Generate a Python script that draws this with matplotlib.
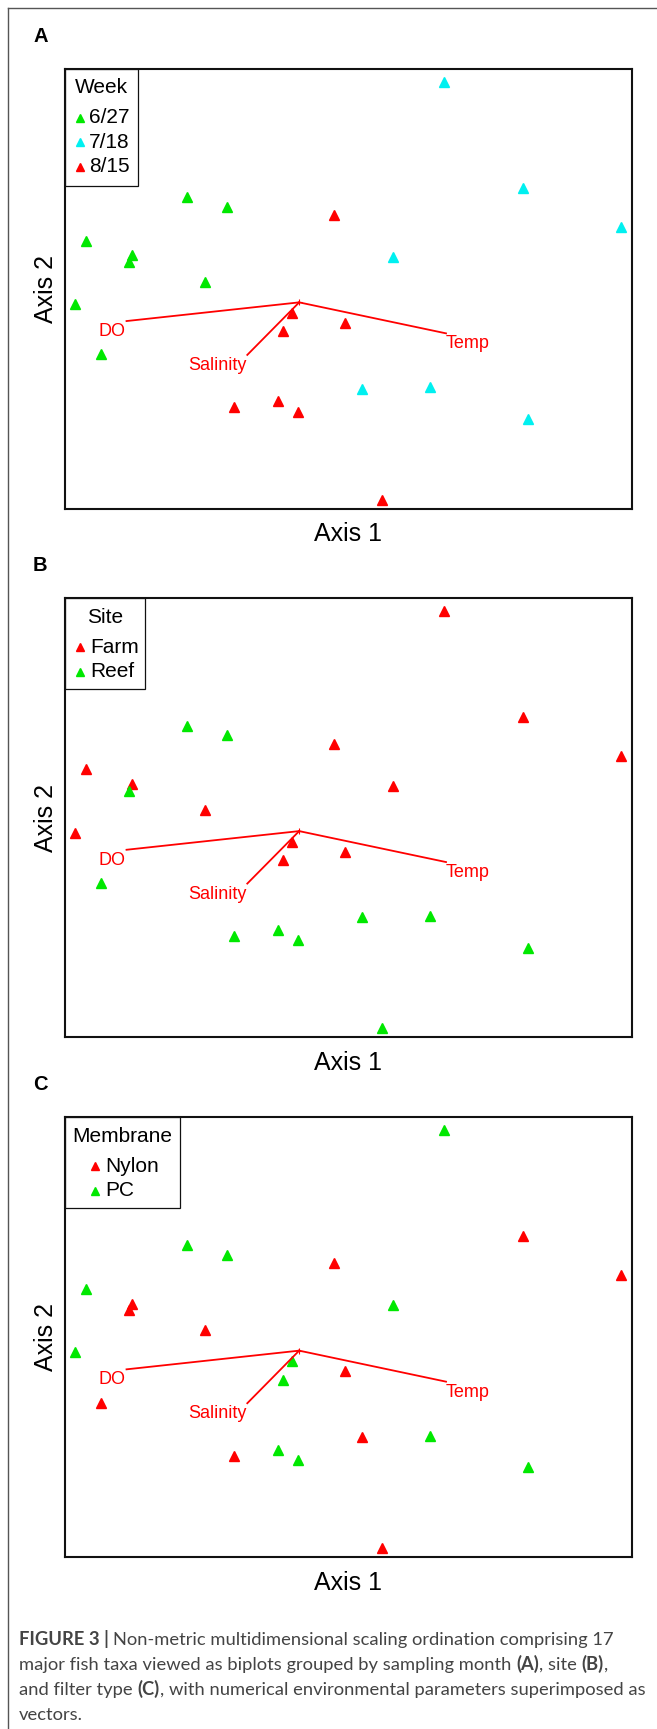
import matplotlib.pyplot as plt
from matplotlib.patches import Rectangle
from matplotlib.lines import Line2D

plt.rcParams['font.family'] = ['Liberation Sans', 'DejaVu Sans']

# NMDS scores of the 23 samples
axis1 = [-0.569, -0.430, -0.925, -0.765, -0.774, -0.507, -0.965, -0.872,
         0.336, 0.615, 0.962, 0.156, 0.046, 0.286, 0.632,
         -0.051, -0.200, -0.230, -0.011, -0.405, -0.250, -0.179, 0.119]
axis2 = [0.418, 0.374, 0.219, 0.152, 0.123, 0.032, -0.070, -0.298,
         0.942, 0.457, 0.280, 0.144, -0.455, -0.449, -0.593,
         0.335, -0.110, -0.194, -0.156, -0.540, -0.512, -0.559, -0.961]

# grouping of each sample
week = ['6/27'] * 8 + ['7/18'] * 7 + ['8/15'] * 8
site = ['Reef', 'Reef', 'Farm', 'Farm', 'Reef', 'Farm', 'Farm', 'Reef',
        'Farm', 'Farm', 'Farm', 'Farm', 'Reef', 'Reef', 'Reef',
        'Farm', 'Farm', 'Farm', 'Farm', 'Reef', 'Reef', 'Reef', 'Reef']
membrane = ['PC', 'PC', 'PC', 'Nylon', 'Nylon', 'Nylon', 'PC', 'Nylon',
            'PC', 'Nylon', 'Nylon', 'PC', 'Nylon', 'PC', 'PC',
            'Nylon', 'PC', 'PC', 'Nylon', 'Nylon', 'PC', 'PC', 'Nylon']

# environmental vectors (envfit arrows)
vec_names = ['DO', 'Temp', 'Salinity']
vec_origin = (-0.174, -0.062)
vec_x = [-0.783, 0.344, -0.357]
vec_y = [-0.147, -0.203, -0.301]

GREEN, CYAN, RED = '#00e800', '#00f0f0', '#ff0000'

W, H = 657, 1729
fig = plt.figure(figsize=(W / 100, H / 100), dpi=100)

# partial frame round the figure
fig.add_artist(Line2D([8 / W, 8 / W], [0, 1 - 8 / H], color='#555555', lw=1))
fig.add_artist(Line2D([8 / W, 1], [1 - 8 / H, 1 - 8 / H], color='#555555', lw=1))

panels = [
    # letter, box top/bottom (px), legend title, groups, levels, colours, legend w, h, marker x, text x
    ('A', 69, 508.5, 'Week', week, ['6/27', '7/18', '8/15'], [GREEN, CYAN, RED], 72.7, 116.7, 15, 24),
    ('B', 598, 1037, 'Site', site, ['Farm', 'Reef'], [RED, GREEN], 79.5, 91, 14.6, 25),
    ('C', 1117, 1557, 'Membrane', membrane, ['Nylon', 'PC'], [RED, GREEN], 115, 91, 30, 40),
]
label_style = {'DO': ('right', (-1, -2)), 'Temp': ('left', (0, -2)), 'Salinity': ('right', (-1, -2))}

left, right = 65, 632
for letter, top, bottom, title, groups, levels, colors, lw_, lh_, mx, tx in panels:
    ax_w, ax_h = right - left, bottom - top
    ax = fig.add_axes([left / W, 1 - bottom / H, ax_w / W, ax_h / H])
    ax.set_xlim(-1, 1)
    ax.set_ylim(-1, 1)
    ax.set_xticks([])
    ax.set_yticks([])
    for sp in ax.spines.values():
        sp.set_linewidth(1.5)
        sp.set_color('#111111')

    for lev, col in zip(levels, colors):
        xs = [x for x, g in zip(axis1, groups) if g == lev]
        ys = [y for y, g in zip(axis2, groups) if g == lev]
        ax.plot(xs, ys, ls='none', marker='^', ms=6.5, color=col, mec=col, zorder=3)

    # vectors
    ox, oy = vec_origin
    for name, ex, ey in zip(vec_names, vec_x, vec_y):
        ax.plot([ox, ex], [oy, ey], color=RED, lw=1.3, zorder=4)
        ha, off = label_style[name]
        ax.annotate(name, xy=(ex, ey), xytext=off, textcoords='offset pixels',
                    ha=ha, va='top', color=RED, fontsize=13, zorder=4)
    ax.plot([ox], [oy], marker='+', ms=5, mew=0.8, color=RED, zorder=4)

    # legend drawn R-style
    ax.add_patch(Rectangle((0, 1 - lh_ / ax_h), lw_ / ax_w, lh_ / ax_h, transform=ax.transAxes,
                           fill=False, ec='#111111', lw=0.9, zorder=5, clip_on=False))
    ax.text(lw_ / 2 / ax_w, 1 - 19 / ax_h, title, transform=ax.transAxes,
            ha='center', va='center', fontsize=15)
    for i, (lev, col) in enumerate(zip(levels, colors)):
        ey = 1 - (49 + 24.5 * i) / ax_h
        ax.plot([mx / ax_w], [ey], transform=ax.transAxes, ls='none', marker='^', ms=6,
                color=col, clip_on=False)
        ax.text(tx / ax_w, ey, lev, transform=ax.transAxes, ha='left', va='center', fontsize=15)

    ax.text(0.5, -32.5 / ax_h, 'Axis 1', transform=ax.transAxes, ha='center',
            va='baseline', fontsize=18)
    ax.text(-11.7 / ax_w, 0.5, 'Axis 2', transform=ax.transAxes, ha='center',
            va='baseline', rotation=90, rotation_mode='anchor', fontsize=18)

    fig.text(33 / W, 1 - (top - 27) / H, letter, ha='left', va='baseline',
             fontsize=14.5, fontweight='bold')

# caption with bold pieces
caption_lines = [
    [('FIGURE 3 | ', True), ('Non-metric multidimensional scaling ordination comprising 17', False)],
    [('major fish taxa viewed as biplots grouped by sampling month ', False), ('(A)', True),
     (', site ', False), ('(B)', True), (',', False)],
    [('and filter type ', False), ('(C)', True),
     (', with numerical environmental parameters superimposed as', False)],
    [('vectors.', False)],
]
cap_font = ['Lato', 'DejaVu Sans']
cap_color = '#444444'
renderer = fig.canvas.get_renderer()


def advance(s, bold, size):
    t1 = fig.text(0, 0, '|' + s + '|', family=cap_font, fontsize=size,
                  fontweight='bold' if bold else 'normal')
    t2 = fig.text(0, 0, '||', family=cap_font, fontsize=size,
                  fontweight='bold' if bold else 'normal')
    w = t1.get_window_extent(renderer).width - t2.get_window_extent(renderer).width
    t1.remove()
    t2.remove()
    return w


# fit the caption size to the width of the third line
ref_w = sum(advance(s, b, 10) for s, b in caption_lines[2])
cap_size = 10 * 626 / ref_w

y0, dy = 1645, 25
for i, pieces in enumerate(caption_lines):
    x = 19
    for s, b in pieces:
        fig.text(x / W, 1 - (y0 + i * dy) / H, s, family=cap_font, fontsize=cap_size,
                 fontweight='bold' if b else 'normal', color=cap_color,
                 ha='left', va='baseline')
        x += advance(s, b, cap_size)

fig.savefig('out.png', dpi=100)
